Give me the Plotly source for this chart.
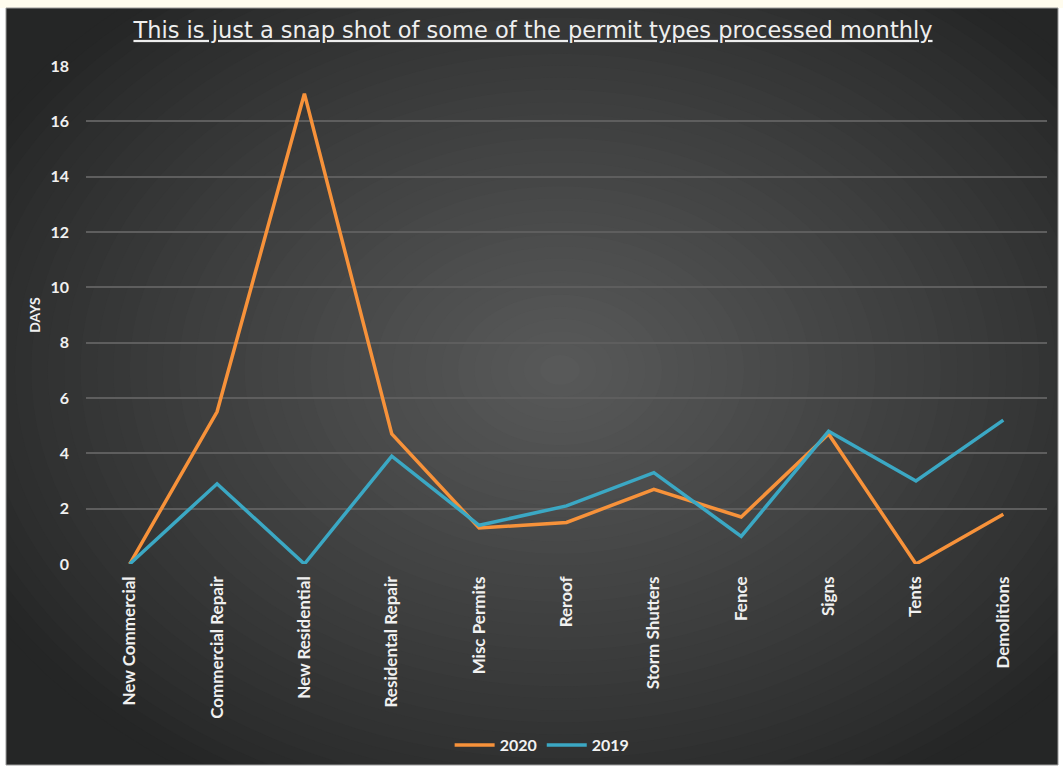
import plotly.graph_objects as go

categories = ["New Commercial", "Commercial Repair", "New Residential", "Residental Repair",
              "Misc Permits", "Reroof", "Storm Shutters", "Fence", "Signs", "Tents", "Demolitions"]
values_2020 = [0, 5.5, 17, 4.7, 1.3, 1.5, 2.7, 1.7, 4.7, 0, 1.8]
values_2019 = [0, 2.9, 0, 3.9, 1.4, 2.1, 3.3, 1.0, 4.8, 3.0, 5.2]
y_ticks = [0, 2, 4, 6, 8, 10, 12, 14, 16, 18]

W, H = 1063, 770
ML, MR, MT, MB = 86, 16, 66, 206
PW = W - ML - MR
PH = H - MT - MB


def px(x):
    return (x - ML) / PW


def py(y):
    return (H - MB - y) / PH


fig = go.Figure()
fig.add_trace(go.Scatter(x=categories, y=values_2020, mode="lines", name="2020",
                         line=dict(color="#f7923a", width=3.5)))
fig.add_trace(go.Scatter(x=categories, y=values_2019, mode="lines", name="2019",
                         line=dict(color="#3ba8c4", width=3.5)))

shapes = []
shapes.append(dict(type="rect", xref="paper", yref="paper", x0=px(6), x1=px(1058), y0=py(765), y1=py(8),
                   fillcolor="#252626", line=dict(width=0), layer="below"))
cx, cy = 560, 370
Rx, Ry = 640, 470
N = 40
c_edge = (0x25, 0x26, 0x26)
c_mid = (0x58, 0x59, 0x59)
for i in range(N):
    t = i / (N - 1)
    f = 1 - t
    rx = Rx * f + 20
    ry = Ry * f + 15
    col = tuple(int(c_edge[k] + (c_mid[k] - c_edge[k]) * (t ** 0.9)) for k in range(3))
    shapes.append(dict(type="circle", xref="paper", yref="paper",
                       x0=px(cx - rx), x1=px(cx + rx), y0=py(cy + ry), y1=py(cy - ry),
                       fillcolor="rgb(%d,%d,%d)" % col, line=dict(width=0), layer="below"))
shapes.append(dict(type="rect", xref="paper", yref="paper", x0=px(-10), x1=px(W + 10), y0=py(8), y1=py(-10),
                   fillcolor="#fffcee", line=dict(width=0), layer="below"))
shapes.append(dict(type="rect", xref="paper", yref="paper", x0=px(-10), x1=px(6), y0=py(H + 10), y1=py(8),
                   fillcolor="#ffffff", line=dict(width=0), layer="below"))
shapes.append(dict(type="rect", xref="paper", yref="paper", x0=px(1058), x1=px(W + 10), y0=py(H + 10), y1=py(8),
                   fillcolor="#ffffff", line=dict(width=0), layer="below"))
shapes.append(dict(type="rect", xref="paper", yref="paper", x0=px(-10), x1=px(W + 10), y0=py(H + 10), y1=py(765),
                   fillcolor="#ffffff", line=dict(width=0), layer="below"))
shapes.append(dict(type="rect", xref="paper", yref="paper", x0=px(6), x1=px(1058), y0=py(765), y1=py(8),
                   fillcolor="rgba(0,0,0,0)", line=dict(width=1, color="#9a9a9a"), layer="below"))

fig.update_layout(
    width=W, height=H,
    margin=dict(l=ML, r=MR, t=MT, b=MB, autoexpand=False),
    paper_bgcolor="#ffffff",
    plot_bgcolor="rgba(0,0,0,0)",
    shapes=shapes,
    title=dict(text="<u>This is just a snap shot of some of the permit types processed monthly</u>",
               x=533 / W, xref="container", xanchor="center", y=1 - 30 / H, yanchor="middle",
               font=dict(family="DejaVu Sans", size=22.5, color="#eeeeee")),
    showlegend=True,
    legend=dict(orientation="h", x=0.51, xref="container",
                xanchor="center", y=1 - 745 / H, yref="container", yanchor="middle",
                font=dict(family="Lato", size=16, color="#f2f2f2", weight="bold"),
                bgcolor="rgba(0,0,0,0)", itemwidth=40, tracegroupgap=0),
    font=dict(family="Lato", color="#f0f0f0"),
)
fig.update_xaxes(type="category", range=[-0.5, 10.5], showgrid=False, zeroline=False,
                 showline=False, tickangle=-90, ticks="",
                 tickfont=dict(family="Lato", size=17, color="#f0f0f0", weight="bold"),
                 ticklabelstandoff=8)
fig.update_yaxes(range=[0, 18], tickvals=y_ticks, showgrid=True, gridcolor="#5e5e5e", gridwidth=2,
                 zeroline=False, showline=False, ticks="",
                 tickfont=dict(family="Lato", size=16, color="#f0f0f0", weight="bold"),
                 ticklabelstandoff=16,
                 title=dict(text="DAYS", font=dict(family="Lato", size=14, color="#f0f0f0", weight="bold"),
                            standoff=6))
fig.write_html("out.html")
